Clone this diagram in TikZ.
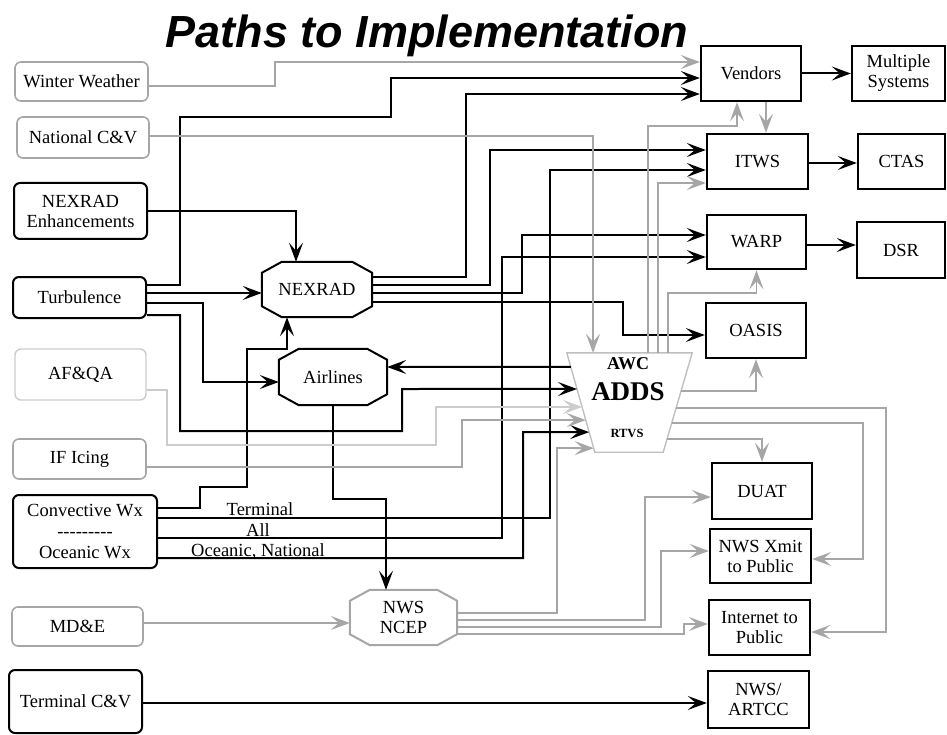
\documentclass[tikz,border=0pt]{standalone}
\usepackage{fontspec}
\setmainfont{Liberation Serif}
\newfontfamily\titlefont{Liberation Sans}
\usetikzlibrary{arrows.meta,calc}

\begin{document}
\begin{tikzpicture}[x=1pt,y=-1pt,
    every node/.style={inner sep=1pt, align=center, font=\fontsize{18.5}{20}\selectfont},
    src/.style={draw, rounded corners=6pt, line width=2pt},
    srcg/.style={src, draw=gray!70, line width=1.6pt},
    srcl/.style={src, draw=gray!40, line width=1.4pt},
    dest/.style={draw, line width=2.4pt},
    hub/.style={draw=none},
    lbl/.style={inner sep=0pt, anchor=base},
    blk/.style={line width=2pt, -{Stealth[length=19pt,width=14pt,inset=8pt]}},
    gry/.style={blk, draw=gray!70, line width=1.8pt},
    lgt/.style={gry, draw=gray!40}]
  \useasboundingbox (0,0) rectangle (947,735);

  \node (title) at (427,36) {\titlefont\bfseries\itshape\fontsize{45}{48}\selectfont Paths to Implementation};

  % sources
  \node[srcg, minimum width=133, minimum height=39] (winter) at (81.5,81.5) {Winter Weather};
  \node[srcg, minimum width=132, minimum height=41] (natcv) at (83,137.5) {National C\&V};
  \node[src, minimum width=133, minimum height=56] (nexenh) at (80.5,211) {NEXRAD\\Enhancements};
  \node[src, minimum width=133, minimum height=41] (turb) at (79.5,297.5) {Turbulence};
  \node[srcl, minimum width=131, minimum height=51] (afqa) at (80.5,374.5) {AF\&QA};
  \node[srcg, minimum width=133, minimum height=40] (ificing) at (79.5,459) {IF Icing};
  \node[src, minimum width=144, minimum height=73] (conv) at (85,531.5) {Convective Wx\\[1pt]\mbox{-{}-{}-{}-{}-{}-{}-{}-{}-}\\[1pt]Oceanic Wx};
  \node[srcg, minimum width=131, minimum height=39] (mde) at (77.5,626.5) {MD\&E};
  \node[src, minimum width=133, minimum height=63] (termcv) at (75.5,701.5) {Terminal C\&V};

  % hubs
  \node[hub, minimum width=110, minimum height=55] (nexrad) at (317,289.5) {NEXRAD};
  \node[hub, minimum width=108, minimum height=56] (airlines) at (333,377) {Airlines};
  \node[hub, minimum width=107, minimum height=55] (ncep) at (403.5,617.5) {NWS\\NCEP};
  \foreach \n/\c in {nexrad/black, airlines/black, ncep/gray!70} {
    \draw[line width=2pt, draw=\c] ([xshift=20]\n.north west) -- ([xshift=-20]\n.north east)
      -- ([yshift=-11]\n.north east) -- ([yshift=11]\n.south east) -- ([xshift=-20]\n.south east)
      -- ([xshift=20]\n.south west) -- ([yshift=11]\n.south west) -- ([yshift=-11]\n.north west) -- cycle;
  }

  \node[hub, minimum width=125, minimum height=99] (adds) at (629.5,402.5) {};
  \coordinate (aTL) at (adds.north west);
  \coordinate (aTR) at (adds.north east);
  \coordinate (aBL) at ([xshift=28]adds.south west);
  \coordinate (aBR) at ([xshift=-29]adds.south east);
  \draw[draw=gray!50, line width=1.4pt] (aTL) -- (aTR) -- (aBR) -- (aBL) -- cycle;
  \node[font=\bfseries\fontsize{18}{20}\selectfont] (awc) at (628,364) {AWC};
  \node[font=\bfseries\fontsize{27}{30}\selectfont] (addst) at (628,392) {ADDS};
  \node[font=\bfseries\fontsize{12.5}{15}\selectfont] (rtvs) at (627,433) {RTVS};

  % targets
  \node[dest, minimum width=100, minimum height=55] (vend) at (751,73.5) {Vendors};
  \node[dest, minimum width=93, minimum height=55] (multi) at (898.5,73.5) {Multiple\\Systems};
  \node[dest, minimum width=101, minimum height=55] (itws) at (757.5,161.5) {ITWS};
  \node[dest, minimum width=87, minimum height=55] (ctas) at (901.5,161.5) {CTAS};
  \node[dest, minimum width=99, minimum height=54] (warp) at (756.5,242) {WARP};
  \node[dest, minimum width=88, minimum height=56] (dsr) at (901,250) {DSR};
  \node[dest, minimum width=100, minimum height=55] (oasis) at (756,330.5) {OASIS};
  \node[dest, minimum width=100, minimum height=56] (duat) at (762,491) {DUAT};
  \node[dest, minimum width=101, minimum height=54] (nwsx) at (760.5,556) {NWS Xmit\\to Public};
  \node[dest, minimum width=101, minimum height=55] (inet) at (759.5,627.5) {Internet to\\Public};
  \node[dest, minimum width=101, minimum height=57] (artcc) at (758.5,699.5) {NWS/\\ARTCC};

  \node[lbl] (lterm) at (260,515.5) {Terminal};
  \node[lbl] (lall) at (258,536) {All};
  \node[lbl] (locean) at (258,556) {Oceanic, National};

  % black paths
  \draw[blk] (turb.east |- 0,285) -| (180,117) -| (391,78) -- (vend.west |- 0,78);
  \draw[blk] (nexrad.east |- 0,277) -| (466,94) -- (vend.west |- 0,94);
  \draw[blk] (nexrad.east |- 0,285) -| (490,150) -- (itws.west |- 0,150);
  \draw[blk] (nexrad.east |- 0,293) -| (522,235) -- (warp.west |- 0,235);
  \draw[blk] (nexrad.east |- 0,302) -| (623,335) -- (oasis.west |- 0,335);
  \draw[blk] (nexenh.east |- 0,211) -| ([xshift=-21]nexrad.north);
  \draw[blk] (turb.east |- 0,293) -- (nexrad.west |- 0,293);
  \draw[blk] (turb.east |- 0,303) -| (203,382) -- (airlines.west |- 0,382);
  \draw[blk] (turb.east |- 0,315) -| (180,431) -| (402,389) -- ($(aTL)!0.364!(aBL)$);
  \draw[blk] (conv.east |- 0,508) -| (200,487) -| (247,349) -| ([xshift=-30]nexrad.south);
  \draw[blk] (conv.east |- 0,518) -| (550,170) -- (itws.west |- 0,170);
  \draw[blk] (conv.east |- 0,538) -| (502,257) -- (warp.west |- 0,257);
  \draw[blk] (conv.east |- 0,558) -| (523,432) -- ($(aTL)!0.798!(aBL)$);
  \draw[blk] ($(aTL)!0.141!(aBL)$) -- (airlines.east |- 0,367);
  \draw[blk] (airlines.south) |- (386,499) -- ([xshift=-17.5]ncep.north);
  \draw[blk] (termcv.east |- 0,703) -- (artcc.west |- 0,703);
  \draw[blk] (vend) -- (multi);
  \draw[blk] (itws.east |- 0,163) -- (ctas.west |- 0,163);
  \draw[blk] (warp.east |- 0,245) -- (dsr.west |- 0,245);

  % gray paths
  \draw[gry] (winter.east |- 0,86) -| (275,62) -- (vend.west |- 0,62);
  \draw[gry] (natcv.east |- 0,136) -| ([xshift=-36.5]adds.north);
  \draw[gry] ([xshift=15]vend.south) -- ([xshift=15]vend.south |- itws.north);
  \draw[gry] (adds.north -| 648,0) |- (737,126) -- ([xshift=-14]vend.south);
  \draw[gry] (adds.north -| 658,0) |- (itws.west |- 0,183);
  \draw[gry] (adds.north -| 668,0) |- (warp.south |- 0,293) -- (warp.south);
  \draw[gry] ($(aTR)!0.384!(aBR)$) -| (oasis.south);
  \draw[gry] ($(aTR)!0.556!(aBR)$) -| (886,632) -- (inet.east |- 0,632);
  \draw[gry] ($(aTR)!0.707!(aBR)$) -| (863,559) -- (nwsx.east |- 0,559);
  \draw[gry] ($(aTR)!0.869!(aBR)$) -| (duat.north);
  \draw[lgt] (afqa.east |- 0,390) -| (167,445) -| (436,407) -- ($(aTL)!0.545!(aBL)$);
  \draw[gry] (ificing.east |- 0,467) -| (462,420) -- ($(aTL)!0.677!(aBL)$);
  \draw[gry] (ncep.east |- 0,613) -| (557,448) -- ($(aTL)!0.960!(aBL)$);
  \draw[gry] (ncep.east |- 0,620) -| (645,497) -- (duat.west |- 0,497);
  \draw[gry] (ncep.east |- 0,627) -| (661,551) -- (nwsx.west |- 0,551);
  \draw[gry] (ncep.east |- 0,634) -| (684,624) -- (inet.west |- 0,624);
  \draw[gry] (mde.east |- 0,623) -- (ncep.west |- 0,623);
\end{tikzpicture}
\end{document}
